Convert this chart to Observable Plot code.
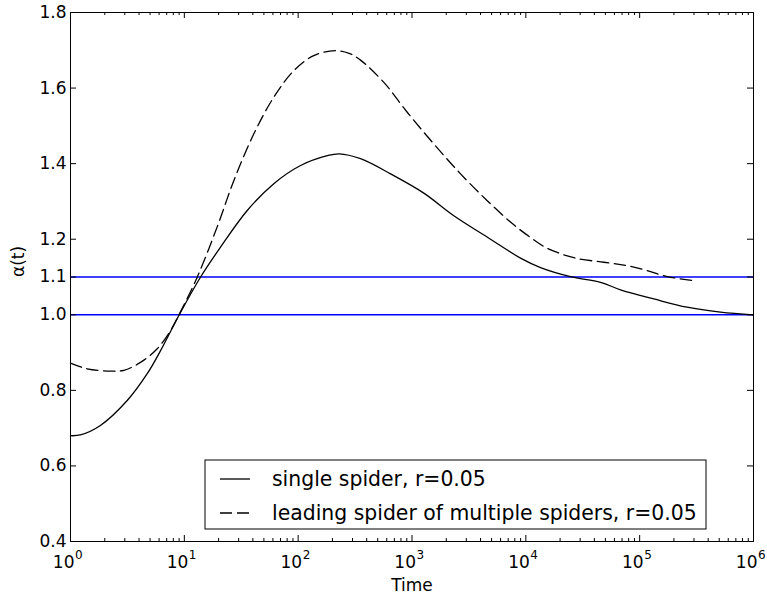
<!DOCTYPE html>
<html><head><meta charset="utf-8">
<script src="https://cdn.jsdelivr.net/npm/d3@7"></script>
<script src="https://cdn.jsdelivr.net/npm/@observablehq/plot@0.6"></script>
<style>
body{margin:0;background:#fff}
svg{font-family:"DejaVu Sans",sans-serif}
</style>
</head><body><div id="chart"></div>
<script>
// ---- data ----
const solidT = [1, 1.22, 1.83, 3.15, 4.72, 6.18, 8.95, 13.9, 20.8, 35.7, 61.1, 105, 180, 230, 353, 648, 1270, 2330, 4900, 8980, 13460, 24700, 45300, 67900, 133000, 261000, 513000, 1000000];
const solidA = [0.680, 0.682, 0.707, 0.773, 0.844, 0.905, 0.998, 1.100, 1.179, 1.276, 1.347, 1.395, 1.421, 1.426, 1.413, 1.373, 1.322, 1.262, 1.200, 1.150, 1.125, 1.101, 1.086, 1.066, 1.042, 1.020, 1.007, 1.000];
const dashedT = [1, 1.4, 2.25, 2.94, 4.12, 5.78, 7.56, 8.9, 13, 19.4, 27.2, 40.8, 61.1, 91.6, 137, 212, 280, 353, 566, 908, 1556, 2670, 4580, 7850, 12600, 15400, 26400, 48400, 77600, 116000, 175000, 290000];
const dashedA = [0.872, 0.857, 0.851, 0.853, 0.874, 0.910, 0.958, 0.998, 1.100, 1.232, 1.355, 1.479, 1.576, 1.646, 1.686, 1.699, 1.692, 1.674, 1.615, 1.536, 1.452, 1.373, 1.302, 1.238, 1.192, 1.176, 1.151, 1.139, 1.130, 1.117, 1.101, 1.091];
const refLines = [1.0, 1.1];
const xMajor = [1, 10, 100, 1000, 10000, 100000, 1000000];
const xExp = ["0", "1", "2", "3", "4", "5", "6"];
const yTicks = [0.4, 0.6, 0.8, 1.0, 1.1, 1.2, 1.4, 1.6, 1.8];
const yLabels = ["0.4", "0.6", "0.8", "1.0", "1.1", "1.2", "1.4", "1.6", "1.8"];
const seriesNames = ["single spider, r=0.05", "leading spider of multiple spiders, r=0.05"];
const xTitle = "Time";
const yTitle = "α(t)";

// ---- layout ----
const W = 767, H = 595, mL = 70, mR = 14, mT = 12, mB = 54;
const plotH = H - mT - mB, plotW = W - mL - mR;
const majorLen = 6, minorLen = 3;
const dash = "11.5,5.5";

const xMinor = [];
for (let k = 0; k < 6; k++) for (let m = 2; m <= 9; m++) xMinor.push(m * Math.pow(10, k));

const solid = solidT.map((t, i) => ({t, a: solidA[i]}));
const dashed = dashedT.map((t, i) => ({t, a: dashedA[i]}));

const chart = Plot.plot({
  width: W, height: H,
  marginLeft: mL, marginRight: mR, marginTop: mT, marginBottom: mB,
  style: {fontFamily: "DejaVu Sans, sans-serif", fontSize: "17px", background: "white", color: "black"},
  x: {type: "log", domain: [1, 1e6], axis: null},
  y: {domain: [0.4, 1.8], axis: null},
  marks: [
    Plot.ruleY(refLines, {y: d => d, stroke: "#0000ff", strokeWidth: 1.5}),
    Plot.line(solid, {x: "t", y: "a", stroke: "black", strokeWidth: 1.3, curve: "catmull-rom"}),
    Plot.line(dashed, {x: "t", y: "a", stroke: "black", strokeWidth: 1.3, strokeDasharray: dash, curve: "catmull-rom"}),
    // inward ticks, bottom & top
    Plot.tickX(xMajor, {x: d => d, insetTop: plotH - majorLen, stroke: "black"}),
    Plot.tickX(xMajor, {x: d => d, insetBottom: plotH - majorLen, stroke: "black"}),
    Plot.tickX(xMinor, {x: d => d, insetTop: plotH - minorLen, stroke: "black"}),
    Plot.tickX(xMinor, {x: d => d, insetBottom: plotH - minorLen, stroke: "black"}),
    // inward ticks, left & right
    Plot.tickY(yTicks, {y: d => d, insetRight: plotW - majorLen, stroke: "black"}),
    Plot.tickY(yTicks, {y: d => d, insetLeft: plotW - majorLen, stroke: "black"}),
    Plot.frame({stroke: "black", strokeWidth: 1}),
    // x tick labels 10^k
    Plot.text(xMajor, {x: d => d, text: () => "10", frameAnchor: "bottom", lineAnchor: "bottom", textAnchor: "end", dx: 4, dy: 26, fontSize: 17, fill: "black"}),
    Plot.text(xMajor, {x: d => d, text: (d, i) => xExp[i], frameAnchor: "bottom", lineAnchor: "bottom", textAnchor: "start", dx: 4.5, dy: 17, fontSize: 12, fill: "black"}),
    // y tick labels
    Plot.text(yTicks, {y: d => d, text: (d, i) => yLabels[i], frameAnchor: "left", textAnchor: "end", dx: -4, fontSize: 17, fill: "black"}),
    // axis titles
    Plot.text([xTitle], {text: d => d, frameAnchor: "bottom", lineAnchor: "bottom", dy: 49, fontSize: 17, fill: "black"}),
    Plot.text([yTitle], {text: d => d, frameAnchor: "left", rotate: -90, dx: -52, fontSize: 17, fill: "black"})
  ]
});

// ---- legend (drawn inside the plot SVG) ----
const svg = d3.select(chart);
const lg = svg.append("g").attr("class", "legend").attr("text-anchor", "start");
const bx = 205, by = 460, bw = 501, bh = 69;
lg.append("rect").attr("x", bx).attr("y", by).attr("width", bw).attr("height", bh)
  .attr("fill", "white").attr("stroke", "black").attr("stroke-width", 1);
const rowsY = [479, 513];
seriesNames.forEach((name, i) => {
  lg.append("line").attr("x1", 220).attr("x2", 250).attr("y1", rowsY[i]).attr("y2", rowsY[i])
    .attr("stroke", "black").attr("stroke-width", 1.3)
    .attr("stroke-dasharray", i === 1 ? "12,5" : null);
  lg.append("text").attr("x", 272).attr("y", rowsY[i]).attr("dy", "0.35em")
    .attr("text-anchor", "start")
    .attr("font-size", 20.4).attr("fill", "black").text(name);
});

document.getElementById("chart").appendChild(chart);
</script>
</body></html>
